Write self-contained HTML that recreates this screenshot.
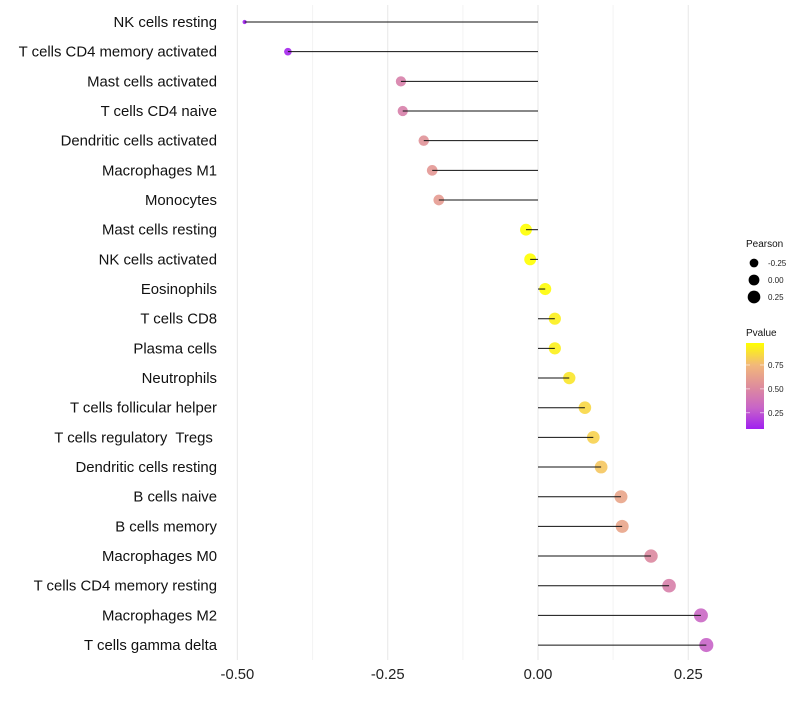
<!DOCTYPE html>
<html><head><meta charset="utf-8"><style>
body{margin:0;background:#fff;}
svg text{font-family:"Liberation Sans",sans-serif;white-space:pre;}
</style></head><body>
<svg id="chart" width="800" height="700" xmlns="http://www.w3.org/2000/svg"></svg>
<script>
const categories=["NK cells resting","T cells CD4 memory activated","Mast cells activated","T cells CD4 naive","Dendritic cells activated","Macrophages M1","Monocytes","Mast cells resting","NK cells activated","Eosinophils","T cells CD8","Plasma cells","Neutrophils","T cells follicular helper","T cells regulatory  Tregs ","Dendritic cells resting","B cells naive","B cells memory","Macrophages M0","T cells CD4 memory resting","Macrophages M2","T cells gamma delta"];
const pearson=[-0.488,-0.416,-0.228,-0.225,-0.190,-0.176,-0.165,-0.020,-0.013,0.012,0.028,0.028,0.052,0.078,0.092,0.105,0.138,0.140,0.188,0.218,0.271,0.280];
const pvalues=[0.08,0.10,0.45,0.45,0.55,0.58,0.60,0.98,0.98,0.97,0.93,0.93,0.90,0.85,0.83,0.80,0.65,0.65,0.50,0.45,0.32,0.30];
const xTicks=[-0.5,-0.25,0,0.25];
const xTickLabels=["-0.50","-0.25","0.00","0.25"];
const xMinor=[-0.375,-0.125,0.125];
const sizeLegend=[-0.25,0,0.25];
const sizeLegendLabels=["-0.25","0.00","0.25"];
const pLegend=[0.25,0.5,0.75];
const pLegendLabels=["0.25","0.50","0.75"];

const NS="http://www.w3.org/2000/svg";
const svg=document.getElementById('chart');
const xs=v=>538+v*601.2;
const ys=i=>22+i*29.67;
const rAnch=[[-0.5,1.8],[-0.42,3.8],[-0.23,5.1],[0,6.0],[0.3,7.1]];
function rs(v){if(v<=rAnch[0][0])return rAnch[0][1];for(let k=0;k<rAnch.length-1;k++){const a=rAnch[k],b=rAnch[k+1];if(v<=b[0])return a[1]+(b[1]-a[1])*(v-a[0])/(b[0]-a[0]);}return rAnch[rAnch.length-1][1];}
const stops=[[0.08,[160,32,240]],[0.3,[200,100,200]],[0.5,[220,136,160]],[0.75,[242,184,122]],[0.98,[255,255,0]]];
function col(p){p=Math.max(0.08,Math.min(0.98,p));for(let k=0;k<stops.length-1;k++){const a=stops[k],b=stops[k+1];if(p<=b[0]){const t=(p-a[0])/(b[0]-a[0]);return 'rgb('+a[1].map((c,j)=>Math.round(c+(b[1][j]-c)*t)).join(',')+')';}}return 'rgb(255,255,0)';}
function mk(tag,attrs,parent){const e=document.createElementNS(NS,tag);for(const k in attrs)e.setAttribute(k,attrs[k]);(parent||svg).appendChild(e);return e;}

xMinor.forEach(v=>{const l=mk('line',{x1:xs(v),x2:xs(v),y1:5,y2:660,stroke:'#f3f3f3','stroke-width':1});

});
xTicks.forEach((v,i)=>{const l=mk('line',{x1:xs(v),x2:xs(v),y1:5,y2:660,stroke:'#ebebeb','stroke-width':1.2});


const t=mk('text',{x:xs(v),y:679,'text-anchor':'middle','font-size':14.8,fill:'#222'});t.textContent=xTickLabels[i];

});

categories.forEach((c,i)=>{
const y=ys(i);
const t=mk('text',{x:217,y:y+5,'text-anchor':'end','font-size':14.9,fill:'#111'});t.textContent=c;


const p=mk('circle',{cx:xs(pearson[i]),cy:y,r:rs(pearson[i]),fill:col(pvalues[i]),'fill-opacity':0.9});


const l=mk('line',{x1:xs(0),x2:xs(pearson[i]),y1:y,y2:y,stroke:'#111','stroke-width':1});


});

const lt=mk('text',{x:746,y:247,'font-size':10,fill:'#111'});lt.textContent='Pearson';


sizeLegend.forEach((v,i)=>{const y=263+i*17;
const c=mk('circle',{cx:754,cy:y,r:rs(v)-0.6,fill:'#000'});


const t=mk('text',{x:768,y:y+3,'font-size':8,fill:'#222'});t.textContent=sizeLegendLabels[i];

});

const pt=mk('text',{x:746,y:336,'font-size':10,fill:'#111'});pt.textContent='Pvalue';


const defs=mk('defs',{});const g=mk('linearGradient',{id:'pg',x1:0,y1:1,x2:0,y2:0},defs);
stops.forEach(s=>{const o=(s[0]-0.08)/0.9;mk('stop',{offset:o,'stop-color':'rgb('+s[1].join(',')+')'},g);});
const bar=mk('rect',{x:746,y:343,width:18,height:86,fill:'url(#pg)'});


const py=p=>343+(0.98-p)/0.9*86;
pLegend.forEach((v,i)=>{const y=py(v);
mk('line',{x1:746,x2:750,y1:y,y2:y,stroke:'#fff','stroke-width':0.8,'stroke-opacity':0.7});
mk('line',{x1:760,x2:764,y1:y,y2:y,stroke:'#fff','stroke-width':0.8,'stroke-opacity':0.7});
const t=mk('text',{x:768,y:y+3,'font-size':8,fill:'#222'});t.textContent=pLegendLabels[i];

});
</script>
</body></html>
